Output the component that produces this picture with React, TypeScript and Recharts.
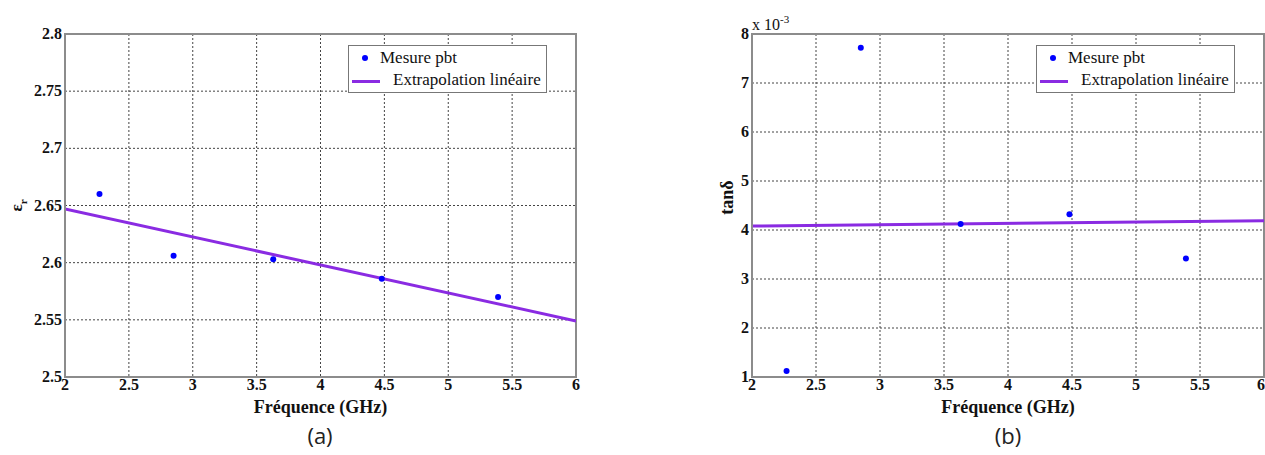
import {
  CartesianGrid,
  ComposedChart,
  Label,
  Legend,
  Line,
  ReferenceArea,
  Scatter,
  XAxis,
  YAxis,
} from "recharts";

// measured points (frequency in GHz)
const freq = [2.27, 2.85, 3.63, 4.48, 5.39];
const epsR = [2.66, 2.606, 2.603, 2.586, 2.57];
const tanD = [1.12, 7.72, 4.12, 4.32, 3.42]; // x 10^-3

// linear fit end points
const fitFreq = [2, 6];
const epsFit = [2.647, 2.549];
const tanFit = [4.08, 4.19];

const xTicks = [2, 2.5, 3, 3.5, 4, 4.5, 5, 5.5, 6];
const epsTicks = [2.5, 2.55, 2.6, 2.65, 2.7, 2.75, 2.8];
const tanTicks = [1, 2, 3, 4, 5, 6, 7, 8];

const POINT = "#0000ff";
const FIT = "#8a2be2";
const FRAME = "#8c8c8c";
const SERIF = "'Liberation Serif', 'Times New Roman', serif";

function Dot(props: any) {
  return <circle cx={props.cx} cy={props.cy} r={3} fill={POINT} />;
}

function XTick({ x, y, payload }: any) {
  return (
    <text x={x} y={y + 13} textAnchor="middle" fontFamily={SERIF} fontSize={16} fontWeight={700} fill="#111">
      {String(payload.value)}
    </text>
  );
}

function makeYTick(fmt: (v: number) => string) {
  return ({ x, y, payload }: any) => (
    <text x={x} y={y + 5} textAnchor="end" fontFamily={SERIF} fontSize={16} fontWeight={700} fill="#111">
      {fmt(payload.value)}
    </text>
  );
}

function LegendBox() {
  return (
    <div
      style={{
        width: 197,
        height: 46,
        border: "1px solid #777",
        background: "white",
        fontFamily: SERIF,
        fontSize: 17,
        lineHeight: "20px",
        color: "#111",
        position: "relative",
        textAlign: "left",
        whiteSpace: "nowrap",
      }}
    >
      <span style={{ position: "absolute", left: 13, top: 9, width: 6, height: 6, borderRadius: 3, background: POINT }} />
      <span style={{ position: "absolute", left: 31, top: 2 }}>Mesure pbt</span>
      <span style={{ position: "absolute", left: 3, top: 34, width: 28, height: 3, background: FIT }} />
      <span style={{ position: "absolute", left: 44, top: 24 }}>Extrapolation linéaire</span>
    </div>
  );
}

function XLabel({ viewBox }: any) {
  return (
    <text
      x={viewBox.x + viewBox.width / 2}
      y={viewBox.y + 36}
      textAnchor="middle"
      fontFamily={SERIF}
      fontSize={18}
      fontWeight={700}
      fill="#111"
    >
      Fréquence (GHz)
    </text>
  );
}

function EpsLabel({ viewBox }: any) {
  const x = viewBox.x + 17;
  const y = viewBox.y + viewBox.height / 2;
  return (
    <text x={x} y={y} transform={`rotate(-90 ${x} ${y})`} textAnchor="middle" fontFamily={SERIF} fontSize={17} fontWeight={700} fill="#111">
      ε<tspan fontSize={11} dy={5}>r</tspan>
    </text>
  );
}

function TanLabel({ viewBox }: any) {
  const x = viewBox.x + 41;
  const y = viewBox.y + viewBox.height / 2 - 8;
  return (
    <g>
      <text x={x} y={y} transform={`rotate(-90 ${x} ${y})`} textAnchor="middle" fontFamily={SERIF} fontSize={18} fontWeight={700} fill="#111">
        tanδ
      </text>
      <text x={viewBox.x + viewBox.width} y={viewBox.y - 4} fontFamily={SERIF} fontSize={16} fill="#111">
        x 10<tspan fontSize={11} dy={-7}>-3</tspan>
      </text>
    </g>
  );
}

function Panel({
  ys,
  fit,
  domain,
  ticks,
  fmt,
  yLabel,
  margin,
  width,
}: {
  ys: number[];
  fit: number[];
  domain: [number, number];
  ticks: number[];
  fmt: (v: number) => string;
  yLabel: (p: any) => any;
  margin: { top: number; right: number; bottom: number; left: number };
  width: number;
}) {
  const points = freq.map((f, i) => ({ x: f, y: ys[i] }));
  const line = fitFreq.map((f, i) => ({ x: f, y: fit[i] }));
  const plotRight = width - margin.right;
  return (
    <ComposedChart width={width} height={455} margin={margin}>
      <CartesianGrid stroke="#444" strokeDasharray="2 2" strokeWidth={1} />
      <XAxis
        type="number"
        dataKey="x"
        domain={[2, 6]}
        ticks={xTicks}
        height={78}
        tick={XTick}
        tickLine={false}
        tickSize={0}
        tickMargin={0}
        axisLine={{ stroke: FRAME, strokeWidth: 2 }}
        allowDataOverflow
      >
        <Label content={XLabel} />
      </XAxis>
      <YAxis
        type="number"
        dataKey="y"
        domain={domain}
        ticks={ticks}
        width={60}
        tick={makeYTick(fmt)}
        tickLine={false}
        tickSize={0}
        tickMargin={3}
        axisLine={{ stroke: FRAME, strokeWidth: 2 }}
        allowDataOverflow
      >
        <Label content={yLabel} />
      </YAxis>
      <ReferenceArea x1={2} x2={6} y1={domain[0]} y2={domain[1]} fill="none" stroke={FRAME} strokeWidth={2} />
      <Line
        data={line}
        dataKey="y"
        stroke={FIT}
        strokeWidth={3}
        dot={false}
        activeDot={false}
        isAnimationActive={false}
        name="Extrapolation linéaire"
      />
      <Scatter data={points} dataKey="y" shape={Dot} isAnimationActive={false} name="Mesure pbt" />
      <Legend
        layout="vertical"
        align="center"
        verticalAlign="middle"
        content={() => <LegendBox />}
        wrapperStyle={{ left: plotRight - 228, top: 45, width: 199 }}
      />
    </ComposedChart>
  );
}

export default function App() {
  return (
    <div style={{ position: "absolute", left: 0, top: 0, width: 1265, height: 455, background: "white" }}>
      <div style={{ position: "absolute", left: 0, top: 0 }}>
        <Panel
          ys={epsR}
          fit={epsFit}
          domain={[2.5, 2.8]}
          ticks={epsTicks}
          fmt={(v) => String(Number(v.toFixed(2)))}
          yLabel={EpsLabel}
          margin={{ top: 34, right: 24, bottom: 0, left: 5 }}
          width={600}
        />
      </div>
      <div style={{ position: "absolute", left: 640, top: 0 }}>
        <Panel
          ys={tanD}
          fit={tanFit}
          domain={[1, 8]}
          ticks={tanTicks}
          fmt={(v) => String(v)}
          yLabel={TanLabel}
          margin={{ top: 34, right: 1, bottom: 0, left: 52 }}
          width={625}
        />
      </div>
      <div style={{ position: "absolute", left: 270, top: 420, width: 100, textAlign: "center", fontFamily: "'Open Sans', sans-serif", fontSize: 22, color: "#222" }}>
        (a)
      </div>
      <div style={{ position: "absolute", left: 958, top: 420, width: 100, textAlign: "center", fontFamily: "'Open Sans', sans-serif", fontSize: 22, color: "#222" }}>
        (b)
      </div>
    </div>
  );
}
